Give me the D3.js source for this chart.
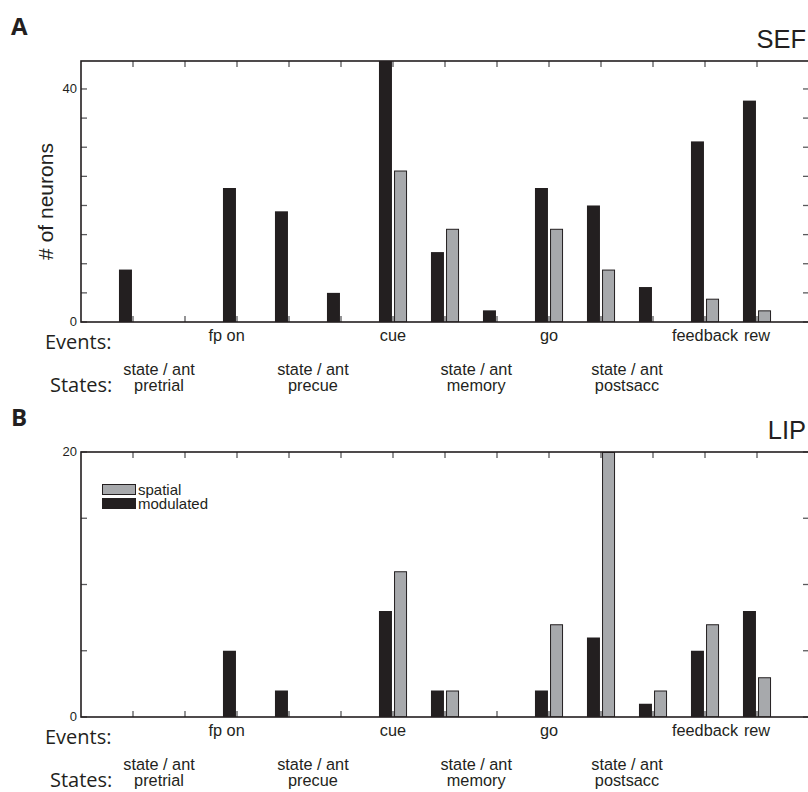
<!DOCTYPE html>
<html>
<head>
<meta charset="utf-8">
<script src="https://cdn.jsdelivr.net/npm/d3@7"></script>
<style>
  body { margin: 0; background: #fff; overflow: hidden; }
  svg { display: block; }
</style>
</head>
<body>
<div id="chart"></div>
<script>
// group index on the x axis (one tick per group)
const groups = [1, 2, 3, 4, 5, 6, 7, 8, 9, 10, 11, 12, 13];

// SEF counts
const sefModulated = [9, 0, 23, 19, 5, 48, 12, 2, 23, 20, 6, 31, 38];
const sefSpatial   = [0, 0, 0, 0, 0, 26, 16, 0, 16, 9, 0, 4, 2];

// LIP counts
const lipModulated = [0, 0, 5, 2, 0, 8, 2, 0, 2, 6, 1, 5, 8];
const lipSpatial   = [0, 0, 0, 0, 0, 11, 2, 0, 7, 20, 2, 7, 3];

// labels under the axis
const eventNames = ["fp on", "cue", "go", "feedback", "rew"];
const eventPos   = [2.8, 6, 9, 12, 13];
const stateNames = ["pretrial", "precue", "memory", "postsacc"];
const statePos   = [1.5, 4.46, 7.6, 10.5];

const sefTicks = [0, 5, 10, 15, 20, 25, 30, 35, 40];
const sefTickLabels = [0, 40];
const lipTicks = [0, 5, 10, 15, 20];
const lipTickLabels = [0, 20];

const W = 808, H = 792;
const dark = "#231f20", grey = "#a7a9ac", tickCol = "#5a5a5c";
const helv = "'Liberation Sans', Arial, sans-serif";
const myriad = "'Open Sans', 'Noto Sans', sans-serif";

const svg = d3.select("#chart").append("svg")
  .attr("width", W)
  .attr("height", H);

// shared x scale, group k sits on tick k
const x = d3.scaleLinear().domain([0, 14]).range([81, 809]);
const bw = x(0.25) - x(0);

function panel(opts) {
  const y = d3.scaleLinear().domain(opts.domain).range([opts.bottom, opts.top]);
  const g = svg.append("g");

  const clipId = "clip-" + opts.name;
  svg.append("clipPath").attr("id", clipId)
    .append("rect")
      .attr("x", x(0)).attr("y", opts.top)
      .attr("width", x(14) - x(0)).attr("height", opts.bottom - opts.top);

  // bars
  const bars = g.append("g").attr("clip-path", `url(#${clipId})`);
  bars.selectAll("rect.mod")
    .data(groups.map((k, i) => ({ k, v: opts.mod[i] })).filter(d => d.v > 0))
    .join("rect")
      .attr("class", "mod")
      .attr("x", d => x(d.k - 0.27))
      .attr("y", d => y(d.v))
      .attr("width", bw)
      .attr("height", d => y(0) - y(d.v))
      .attr("fill", dark);
  bars.selectAll("rect.spa")
    .data(groups.map((k, i) => ({ k, v: opts.spa[i] })).filter(d => d.v > 0))
    .join("rect")
      .attr("class", "spa")
      .attr("x", d => x(d.k + 0.02) + 0.5)
      .attr("y", d => y(d.v) + 0.5)
      .attr("width", bw - 1)
      .attr("height", d => y(0) - y(d.v) - 0.5)
      .attr("fill", grey)
      .attr("stroke", dark)
      .attr("stroke-width", 1);

  // inward ticks on all four sides
  const tl = 6;
  const ticks = g.append("g").attr("stroke", tickCol).attr("stroke-width", 1.3);
  ticks.selectAll("line.tx")
    .data(groups)
    .join("line")
      .attr("x1", d => x(d)).attr("x2", d => x(d))
      .attr("y1", opts.top).attr("y2", opts.top + tl);
  ticks.selectAll("line.bx")
    .data(groups)
    .join("line")
      .attr("x1", d => x(d)).attr("x2", d => x(d))
      .attr("y1", opts.bottom).attr("y2", opts.bottom - tl);
  ticks.selectAll("line.ly")
    .data(opts.ticks)
    .join("line")
      .attr("x1", x(0)).attr("x2", x(0) + tl)
      .attr("y1", d => y(d)).attr("y2", d => y(d));
  ticks.selectAll("line.ry")
    .data(opts.ticks)
    .join("line")
      .attr("x1", x(14)).attr("x2", x(14) - tl)
      .attr("y1", d => y(d)).attr("y2", d => y(d));

  // box
  g.append("rect")
    .attr("x", x(0)).attr("y", opts.top)
    .attr("width", x(14) - x(0)).attr("height", opts.bottom - opts.top)
    .attr("fill", "none")
    .attr("stroke", dark)
    .attr("stroke-width", 1.6);

  // y tick labels
  g.selectAll("text.yl")
    .data(opts.tickLabels)
    .join("text")
      .attr("x", x(0) - 4)
      .attr("y", d => y(d))
      .attr("dy", "0.33em")
      .attr("text-anchor", "end")
      .attr("font-family", helv)
      .attr("font-size", 13)
      .attr("fill", dark)
      .text(d => d);

  // event labels
  const b = opts.bottom;
  g.selectAll("text.ev")
    .data(eventNames)
    .join("text")
      .attr("x", (d, i) => x(eventPos[i]))
      .attr("y", b + 18.5)
      .attr("text-anchor", "middle")
      .attr("font-family", helv)
      .attr("font-size", 16.3)
      .attr("fill", dark)
      .text(d => d);

  // state labels (two lines)
  const st = g.selectAll("text.st")
    .data(stateNames)
    .join("text")
      .attr("text-anchor", "middle")
      .attr("font-family", helv)
      .attr("font-size", 16.3)
      .attr("fill", dark);
  st.append("tspan")
    .attr("x", (d, i) => x(statePos[i]))
    .attr("y", b + 52.5)
    .text("state / ant");
  st.append("tspan")
    .attr("x", (d, i) => x(statePos[i]))
    .attr("y", b + 69)
    .text(d => d);

  g.append("text")
    .attr("x", 45).attr("y", b + 27)
    .attr("font-family", myriad)
    .attr("font-size", 20)
    .attr("fill", dark)
    .text("Events:");
  g.append("text")
    .attr("x", 50).attr("y", b + 69.5)
    .attr("font-family", myriad)
    .attr("font-size", 20)
    .attr("fill", dark)
    .text("States:");

  // panel letter + area name
  g.append("text")
    .attr("x", 11).attr("y", opts.top - 26)
    .attr("font-family", myriad)
    .attr("font-weight", "bold")
    .attr("font-size", 24)
    .attr("fill", dark)
    .text(opts.letter);
  g.append("text")
    .attr("x", 806).attr("y", opts.top - 13)
    .attr("text-anchor", "end")
    .attr("font-family", helv)
    .attr("font-size", 25.5)
    .attr("fill", dark)
    .text(opts.name);

  return { g, y };
}

const pA = panel({
  name: "SEF", letter: "A",
  top: 61, bottom: 322, domain: [0, 44.8],
  mod: sefModulated, spa: sefSpatial,
  ticks: sefTicks, tickLabels: sefTickLabels
});

const pB = panel({
  name: "LIP", letter: "B",
  top: 452, bottom: 717, domain: [0, 20],
  mod: lipModulated, spa: lipSpatial,
  ticks: lipTicks, tickLabels: lipTickLabels
});

// y axis title for panel A
svg.append("text")
  .attr("transform", `translate(53,${(61 + 322) / 2 + 10}) rotate(-90)`)
  .attr("text-anchor", "middle")
  .attr("font-family", helv)
  .attr("font-size", 21)
  .attr("fill", dark)
  .text("# of neurons");

// legend in panel B
const legend = [
  { label: "spatial", fill: grey },
  { label: "modulated", fill: dark }
];
const lg = svg.append("g").attr("transform", "translate(102,484)");
lg.selectAll("rect")
  .data(legend)
  .join("rect")
    .attr("x", 0.5)
    .attr("y", (d, i) => i * 14 + 0.5)
    .attr("width", 33)
    .attr("height", 10)
    .attr("fill", d => d.fill)
    .attr("stroke", dark)
    .attr("stroke-width", 1);
lg.selectAll("text")
  .data(legend)
  .join("text")
    .attr("x", 36)
    .attr("y", (d, i) => i * 14 + 11)
    .attr("font-family", helv)
    .attr("font-size", 15)
    .attr("fill", dark)
    .text(d => d.label);
</script>
</body>
</html>
